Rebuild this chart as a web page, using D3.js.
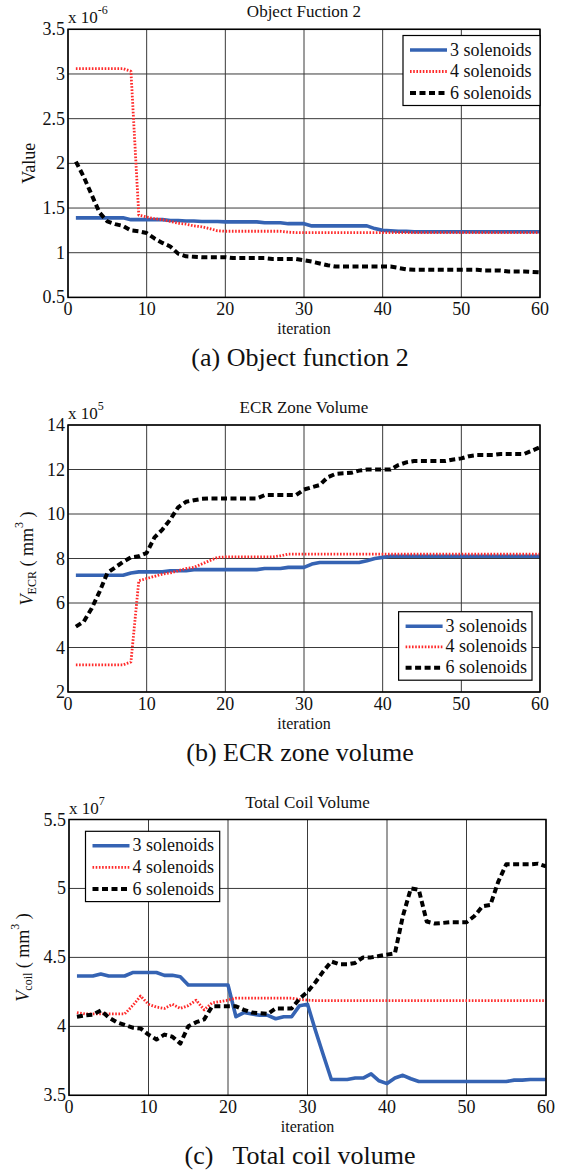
<!DOCTYPE html>
<html lang="en">
<head>
<meta charset="utf-8">
<title>Optimization history</title>
<script src="https://d3js.org/d3.v7.min.js"></script>
<style>
  body { margin: 0; background: #fff; }
</style>
</head>
<body>
<script>
// ---- data ----
var seriesNames = ["3 solenoids", "4 solenoids", "6 solenoids"];
var xTicks = [0, 10, 20, 30, 40, 50, 60];

// (a) object function 2, x 1e-6
var obj3 = [1.39,1.39,1.39,1.39,1.39,1.39,1.39,1.37,1.37,1.37,1.37,1.37,1.36,1.36,1.355,1.355,1.35,1.35,1.35,
  1.345,1.345,1.345,1.345,1.345,1.335,1.335,1.335,1.325,1.325,1.325,1.30,1.30,1.30,1.30,1.30,1.30,1.30,1.30,
  1.27,1.25,1.245,1.24,1.24,1.235,1.235,1.235,1.235,1.235,1.235,1.235,1.235,1.235,1.235,1.235,1.235,1.235,1.235,1.235,1.235,1.235];
var obj4 = [3.06,3.06,3.06,3.06,3.06,3.06,3.06,3.03,1.42,1.40,1.38,1.37,1.35,1.33,1.32,1.30,1.29,1.27,1.245,
  1.24,1.24,1.24,1.24,1.24,1.24,1.24,1.24,1.23,1.225,1.225,1.225,1.225,1.225,1.225,1.225,1.225,1.225,1.225,
  1.225,1.225,1.225,1.225,1.225,1.225,1.225,1.225,1.225,1.225,1.225,1.225,1.225,1.225,1.225,1.225,1.225,1.225,1.225,1.225,1.225,1.225];
var obj6 = [2.02,1.85,1.65,1.45,1.35,1.32,1.30,1.25,1.24,1.22,1.16,1.11,1.07,0.99,0.96,0.955,0.95,0.95,0.95,0.95,
  0.94,0.94,0.94,0.94,0.94,0.93,0.93,0.93,0.93,0.915,0.90,0.88,0.86,0.845,0.845,0.845,0.845,0.845,0.845,0.845,0.845,
  0.83,0.815,0.81,0.81,0.81,0.81,0.81,0.81,0.81,0.81,0.81,0.80,0.80,0.80,0.79,0.79,0.79,0.785,0.78];
var objTicks = [0.5, 1, 1.5, 2, 2.5, 3, 3.5];

// (b) ECR zone volume, x 1e5
var ecr3 = [7.25,7.25,7.25,7.25,7.25,7.25,7.25,7.35,7.4,7.4,7.4,7.4,7.45,7.45,7.45,7.5,7.5,7.5,7.5,7.5,7.5,7.5,7.5,7.5,
  7.55,7.55,7.55,7.6,7.6,7.6,7.75,7.82,7.82,7.82,7.82,7.82,7.82,7.9,8.0,8.05,
  8.1,8.1,8.1,8.1,8.1,8.1,8.1,8.1,8.1,8.1,8.1,8.1,8.1,8.1,8.1,8.1,8.1,8.1,8.1,8.1];
var ecr4 = [3.22,3.22,3.22,3.22,3.22,3.22,3.22,3.35,7.0,7.1,7.2,7.3,7.35,7.45,7.55,7.6,7.75,7.9,8.05,
  8.07,8.07,8.07,8.07,8.07,8.07,8.07,8.12,8.2,8.2,8.2,8.2,8.2,8.2,8.2,8.2,8.2,8.2,8.2,8.2,8.2,
  8.2,8.2,8.2,8.2,8.2,8.2,8.2,8.2,8.2,8.2,8.2,8.2,8.2,8.2,8.2,8.2,8.2,8.2,8.2,8.2];
var ecr6 = [4.94,5.16,5.75,6.5,7.35,7.6,7.85,8.05,8.1,8.25,8.95,9.3,9.75,10.3,10.55,10.62,10.68,
  10.7,10.7,10.7,10.7,10.7,10.7,10.7,10.85,10.85,10.85,10.85,10.85,11.1,11.2,11.3,11.65,11.8,11.83,11.85,11.95,
  12.0,12.0,12.0,12.0,12.2,12.32,12.38,12.38,12.38,12.38,12.38,12.45,12.5,12.6,12.65,12.65,12.65,
  12.7,12.7,12.7,12.7,12.85,13.0];
var ecrTicks = [2, 4, 6, 8, 10, 12, 14];

// (c) total coil volume, x 1e7
var coil3 = [4.365,4.365,4.365,4.38,4.365,4.365,4.365,4.39,4.39,4.39,4.39,4.37,4.37,4.36,4.30,4.30,4.30,4.30,4.30,4.30,
  4.07,4.1,4.09,4.08,4.08,4.055,4.07,4.07,4.15,4.16,3.97,3.79,3.615,3.615,3.615,3.625,3.625,3.655,3.605,3.585,
  3.625,3.645,3.62,3.60,3.60,3.60,3.60,3.60,3.60,3.60,3.60,3.60,3.60,3.60,3.60,3.61,3.61,3.615,3.615,3.615];
var coil4 = [4.10,4.09,4.09,4.09,4.09,4.09,4.09,4.15,4.22,4.16,4.14,4.13,4.16,4.13,4.15,4.19,4.12,4.17,4.18,4.19,
  4.205,4.205,4.205,4.205,4.205,4.205,4.205,4.205,4.195,4.19,
  4.187,4.187,4.187,4.187,4.187,4.187,4.187,4.187,4.187,4.187,4.187,4.187,4.187,4.187,4.187,
  4.187,4.187,4.187,4.187,4.187,4.187,4.187,4.187,4.187,4.187,4.187,4.187,4.187,4.187,4.187];
var coil6 = [4.07,4.08,4.085,4.115,4.065,4.03,4.01,3.99,3.985,3.94,3.905,3.94,3.925,3.875,4.0,4.03,4.05,4.145,4.145,4.145,
  4.145,4.12,4.1,4.095,4.09,4.13,4.13,4.13,4.2,4.25,4.32,4.4,4.47,4.45,4.45,4.46,4.5,4.5,4.51,4.52,
  4.53,4.8,5.0,4.99,4.76,4.745,4.75,4.755,4.755,4.755,4.80,4.87,4.88,5.05,5.175,5.175,5.175,5.175,5.18,5.16];
var coilTicks = [3.5, 4, 4.5, 5, 5.5];

// ---- layout ----
var W = 563, H = 1173;
var svg = d3.select("body").append("svg").attr("width", W).attr("height", H);

var styles = [
  {color: "#3563b3", width: 3.6, dash: null},
  {color: "#ff2a2a", width: 2.8, dash: "1.6,1.6"},
  {color: "#000000", width: 4, dash: "6,3.5"}
];

var panels = [
  {title: "Object Fuction 2", caption: "(a) Object function 2", exp: "-6",
   series: [obj3, obj4, obj6], yTicks: objTicks,
   box: {l: 68, r: 540, t: 29.3, b: 297.4},
   legend: {x: 403, y: 35.5, w: 137, h: 70},
   ylab: [{t: "Value"}], ylabX: 29},
  {title: "ECR Zone Volume", caption: "(b) ECR zone volume", exp: "5",
   series: [ecr3, ecr4, ecr6], yTicks: ecrTicks,
   box: {l: 68, r: 540, t: 425, b: 692},
   legend: {x: 398.6, y: 611.7, w: 133.4, h: 68.5},
   ylab: [{t: "V", it: true}, {t: "ECR", sub: true}, {t: " ( mm"}, {t: "3", sup: true}, {t: " )"}], ylabX: 27},
  {title: "Total Coil Volume", caption: "(c)   Total coil volume", exp: "7",
   series: [coil3, coil4, coil6], yTicks: coilTicks,
   box: {l: 69, r: 546, t: 819.5, b: 1095.3},
   legend: {x: 85.5, y: 831.3, w: 134.2, h: 70.3},
   ylab: [{t: "V", it: true}, {t: "coil", sub: true}, {t: " ( mm"}, {t: "3", sup: true}, {t: " )"}], ylabX: 23}
];

function txt(sel) {
  return sel.append("text").style("font-family", "'Liberation Serif'").attr("fill", "#111");
}

panels.forEach(function(p, pi) {
  var bx = p.box;
  var x = d3.scaleLinear().domain([0, 60]).range([bx.l, bx.r]);
  var y = d3.scaleLinear().domain(d3.extent(p.yTicks)).range([bx.b, bx.t]);
  var g = svg.append("g");

  // grid
  g.selectAll(".vg").data(xTicks).enter().append("line")
    .attr("x1", d => x(d)).attr("x2", d => x(d))
    .attr("y1", bx.t).attr("y2", bx.b)
    .attr("stroke", "#3a3a3a").attr("stroke-width", 1);
  g.selectAll(".hg").data(p.yTicks).enter().append("line")
    .attr("x1", bx.l).attr("x2", bx.r)
    .attr("y1", d => y(d)).attr("y2", d => y(d))
    .attr("stroke", "#3a3a3a").attr("stroke-width", 1);

  // tick labels
  xTicks.forEach(function(d) {
    txt(g).attr("x", x(d)).attr("y", bx.b + 17.5)
      .attr("text-anchor", "middle").attr("font-size", 18).text(d);
  });
  p.yTicks.forEach(function(d) {
    txt(g).attr("x", bx.l - 3).attr("y", y(d) + 6)
      .attr("text-anchor", "end").attr("font-size", 18).text(d);
  });

  // series
  var clipId = "clip" + pi;
  g.append("clipPath").attr("id", clipId).append("rect")
    .attr("x", bx.l).attr("y", bx.t).attr("width", bx.r - bx.l).attr("height", bx.b - bx.t);
  var line = d3.line().x((d, i) => x(i + 1)).y(d => y(d));
  p.series.forEach(function(s, si) {
    var st = styles[si];
    g.append("path").datum(s)
      .attr("clip-path", "url(#" + clipId + ")")
      .attr("d", line)
      .attr("fill", "none")
      .attr("stroke", st.color)
      .attr("stroke-width", st.width)
      .attr("stroke-dasharray", st.dash)
      .attr("stroke-linejoin", "round");
  });

  // axes box
  g.append("rect").attr("x", bx.l).attr("y", bx.t)
    .attr("width", bx.r - bx.l).attr("height", bx.b - bx.t)
    .attr("fill", "none").attr("stroke", "#000").attr("stroke-width", 1.5);

  // exponent
  var ex = txt(g).attr("x", bx.l).attr("y", bx.t - 6).attr("font-size", 17);
  ex.append("tspan").text("x 10");
  ex.append("tspan").attr("dy", -9).attr("font-size", 12).text(p.exp);

  // title
  txt(g).attr("x", (bx.l + bx.r) / 2).attr("y", bx.t - 12)
    .attr("text-anchor", "middle").attr("font-size", 17).text(p.title);

  // x label and caption
  txt(g).attr("x", (bx.l + bx.r) / 2).attr("y", bx.b + 37)
    .attr("text-anchor", "middle").attr("font-size", 16).text("iteration");
  txt(g).attr("x", 300).attr("y", bx.b + 69)
    .attr("text-anchor", "middle").attr("font-size", 26)
    .style("white-space", "pre").text(p.caption);

  // y label
  var yl = txt(g)
    .attr("transform", "translate(" + p.ylabX + "," + ((bx.t + bx.b) / 2) + ") rotate(-90)")
    .attr("text-anchor", "middle").attr("font-size", 18)
    .attr("dominant-baseline", "central");
  p.ylab.forEach(function(part, k) {
    var ts = yl.append("tspan").text(part.t);
    if (part.it) ts.attr("font-style", "italic");
    if (part.sub) ts.attr("font-size", 12).attr("dy", 5);
    if (part.sup) ts.attr("font-size", 12).attr("dy", -8);
    var prev = k > 0 ? p.ylab[k - 1] : null;
    if (prev && prev.sub) ts.attr("dy", part.sup ? -13 : -5);
    if (prev && prev.sup) ts.attr("dy", 8);
  });

  // legend
  var L = p.legend;
  var lg = g.append("g");
  lg.append("rect").attr("x", L.x).attr("y", L.y).attr("width", L.w).attr("height", L.h)
    .attr("fill", "#fff").attr("stroke", "#000").attr("stroke-width", 1.2);
  var rowY = d3.scalePoint().domain(seriesNames).range([L.y + 14.5, L.y + L.h - 12.5]);
  seriesNames.forEach(function(name, si) {
    var st = styles[si];
    lg.append("line")
      .attr("x1", L.x + 7).attr("x2", L.x + 44)
      .attr("y1", rowY(name)).attr("y2", rowY(name))
      .attr("stroke", st.color).attr("stroke-width", st.width)
      .attr("stroke-dasharray", st.dash);
    txt(lg).attr("x", L.x + 47).attr("y", rowY(name) + 5.5)
      .attr("font-size", 18).text(name);
  });
});
</script>
</body>
</html>
